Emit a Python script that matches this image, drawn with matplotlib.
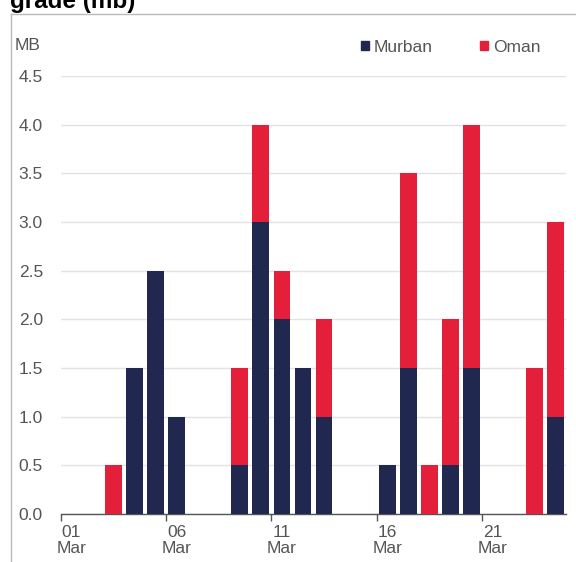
import numpy as np
import matplotlib.pyplot as plt
from matplotlib.lines import Line2D
from matplotlib.patches import Patch

# daily volumes by grade (mb), 01 Mar .. 24 Mar
days = ['%02d' % d for d in range(1, 25)]
murban = [0, 0, 0, 1.5, 2.5, 1.0, 0, 0, 0.5, 3.0, 2.0, 1.5, 1.0, 0, 0,
          0.5, 1.5, 0, 0.5, 1.5, 0, 0, 0, 1.0]
oman = [0, 0, 0.5, 0, 0, 0, 0, 0, 1.0, 1.0, 0.5, 0, 1.0, 0, 0,
        0, 2.0, 0.5, 1.5, 2.5, 0, 0, 1.5, 2.0]
tick_days = ['01', '06', '11', '16', '21']

navy = '#212850'
red = '#e41f3a'
grey = '#555555'

plt.rcParams['font.family'] = ['Liberation Sans', 'DejaVu Sans']

fig = plt.figure(figsize=(5.76, 5.62), dpi=100)
ax = fig.add_axes([61/576, 1 - 514/562, 505/576, 438/562])

x = np.arange(len(days))
ax.bar(x, murban, width=0.8, color=navy, zorder=3)
ax.bar(x, oman, width=0.8, bottom=murban, color=red, zorder=3)

ax.set_xlim(-0.5, len(days) - 0.5)
ax.set_ylim(0, 4.5)
ax.set_yticks(np.arange(0, 4.51, 0.5))
ax.set_yticklabels(['%.1f' % v for v in np.arange(0, 4.51, 0.5)])
ax.grid(axis='y', color='#e3e3e3', linewidth=1, zorder=0)

# ticks on category left edges, labels at category centres
idx = [days.index(d) for d in tick_days]
ax.set_xticks([i - 0.5 for i in idx])
ax.set_xticklabels([])
ax.set_xticks(idx, minor=True)
ax.set_xticklabels([d + '\nMar' for d in tick_days], minor=True)
ax.tick_params(axis='x', which='major', length=5, color=grey, width=1)
ax.tick_params(axis='x', which='minor', length=0, pad=8,
               labelsize=12.5, labelcolor=grey)
for lab in ax.get_xticklabels(minor=True):
    lab.set_linespacing(1.1)
ax.tick_params(axis='y', length=0, pad=13, labelsize=12.5, labelcolor=grey)

for s in ['top', 'right', 'left']:
    ax.spines[s].set_visible(False)
ax.spines['bottom'].set_color(grey)
ax.spines['bottom'].set_linewidth(1)

# frame and header
fig.add_artist(Line2D([10.5/576, 10.5/576], [0, 1 - 13.5/562], color='#bbbbbb', lw=1))
fig.add_artist(Line2D([10.5/576, 1], [1 - 13.5/562, 1 - 13.5/562], color='#bbbbbb', lw=1))
fig.text(10/576, 1 - 8/562, 'grade (mb)', fontsize=17.5, fontweight='bold',
         va='baseline', ha='left', color='black')
fig.text(15/576, 1 - 46/562, 'MB', fontsize=12.5, color=grey, va='center')

handles = [Patch(color=navy, label='Murban'), Patch(color=red, label='Oman')]
fig.legend(handles=handles, loc='center right', bbox_to_anchor=(541/576, 1 - 47/562),
           ncol=2, frameon=False, fontsize=12.5, handlelength=0.45, handleheight=0.45,
           handletextpad=0.3, columnspacing=2.75, labelcolor=grey,
           borderaxespad=0, borderpad=0)

fig.savefig('out.png', dpi=100)
